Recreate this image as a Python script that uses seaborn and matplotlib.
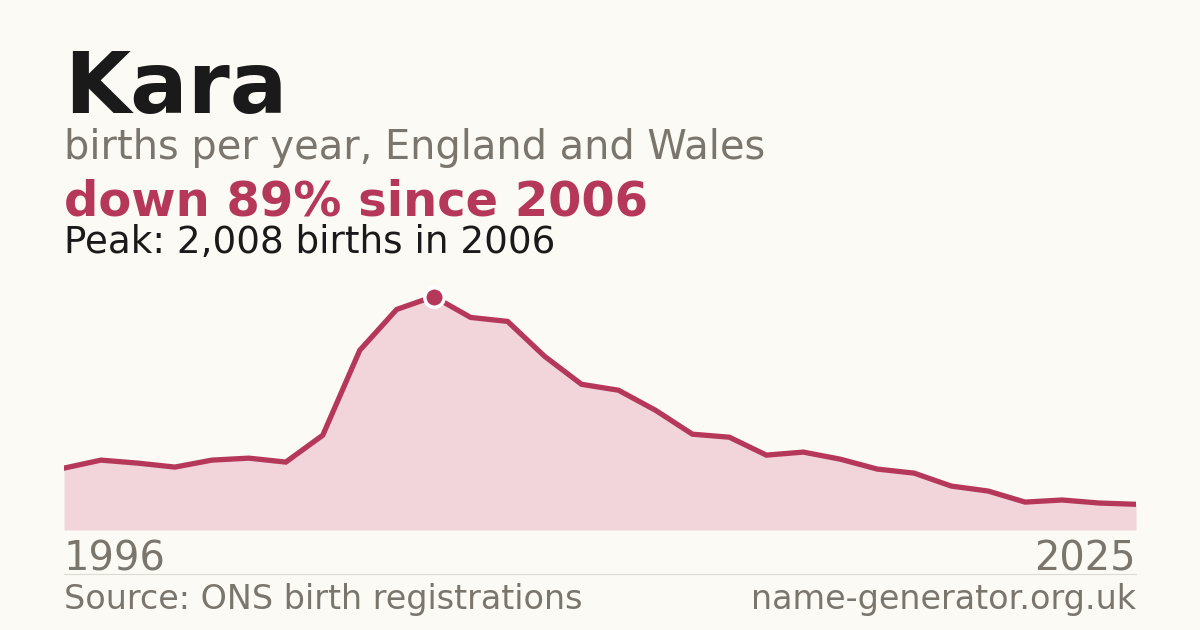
import numpy as np
import pandas as pd
import seaborn as sns
import matplotlib.pyplot as plt

# births per year for "Kara"
years = list(range(1996, 2026))
births = [532, 601, 575, 541, 601, 618, 584, 815, 1545, 1897,
          2008, 1828, 1794, 1494, 1253, 1202, 1030, 824, 798, 644,
          670, 609, 524, 489, 378, 335, 240, 258, 232, 221]

name = "Kara"
subtitle = "births per year, England and Wales"
headline = "down 89% since 2006"
peak_note = "Peak: 2,008 births in 2006"
source = "Source: ONS birth registrations"
site = "name-generator.org.uk"

BG = "#FBFAF5"
RED = "#B5385A"
FILL = "#F2D5DB"
GREY = "#7A756D"
INK = "#1A1A1A"

sns.set_style("white")
plt.rcParams['font.family'] = ['DejaVu Sans']

df = pd.DataFrame({"year": years, "births": births})

fig = plt.figure(figsize=(12, 6.3), dpi=100, facecolor=BG)
ax = fig.add_axes([64/1200, 100/630, 1072/1200, 250/630])
ax.set_facecolor(BG)

ax.fill_between(df["year"], df["births"], 0, color=FILL, lw=0, zorder=1)
sns.lineplot(data=df, x="year", y="births", ax=ax, color=RED, lw=3.8,
             zorder=2, solid_joinstyle="miter")

pk = df.loc[df["births"].idxmax()]
ax.plot([pk["year"]], [pk["births"]], "o", ms=14, mfc=RED, mec="white",
        mew=2.5, zorder=3, clip_on=False)

ax.set_xlim(years[0], years[-1])
ax.set_ylim(0, 2150)
ax.set_xlabel("")
ax.set_ylabel("")
ax.set_yticks([])
ax.set_xticks([years[0], years[-1]])
ax.set_xticklabels([str(years[0]), str(years[-1])], fontsize=28.8, color=GREY)
lbls = ax.get_xticklabels()
lbls[0].set_horizontalalignment("left")
lbls[-1].set_horizontalalignment("right")
ax.tick_params(axis="x", length=0, pad=7)
for s in ax.spines.values():
    s.set_visible(False)

def fy(py):
    return 1 - py / 630

fig.text(64/1200, fy(113), name, fontsize=61.5, fontweight="bold", color=INK, va="baseline")
fig.text(64/1200, fy(159), subtitle, fontsize=28.7, color=GREY, va="baseline")
fig.text(64/1200, fy(215), headline, fontsize=34.6, fontweight="bold", color=RED, va="baseline")
fig.text(64/1200, fy(253), peak_note, fontsize=26.8, color=INK, va="baseline")
fig.text(64/1200, fy(609), source, fontsize=24, color=GREY, va="baseline")
fig.text(1136/1200, fy(609), site, fontsize=24, color=GREY, va="baseline", ha="right")

fig.add_artist(plt.Line2D([64/1200, 1136/1200], [fy(574), fy(574)],
                          color="#DDDAD3", lw=0.8, transform=fig.transFigure))

plt.savefig("out.png", dpi=100, facecolor=BG)
